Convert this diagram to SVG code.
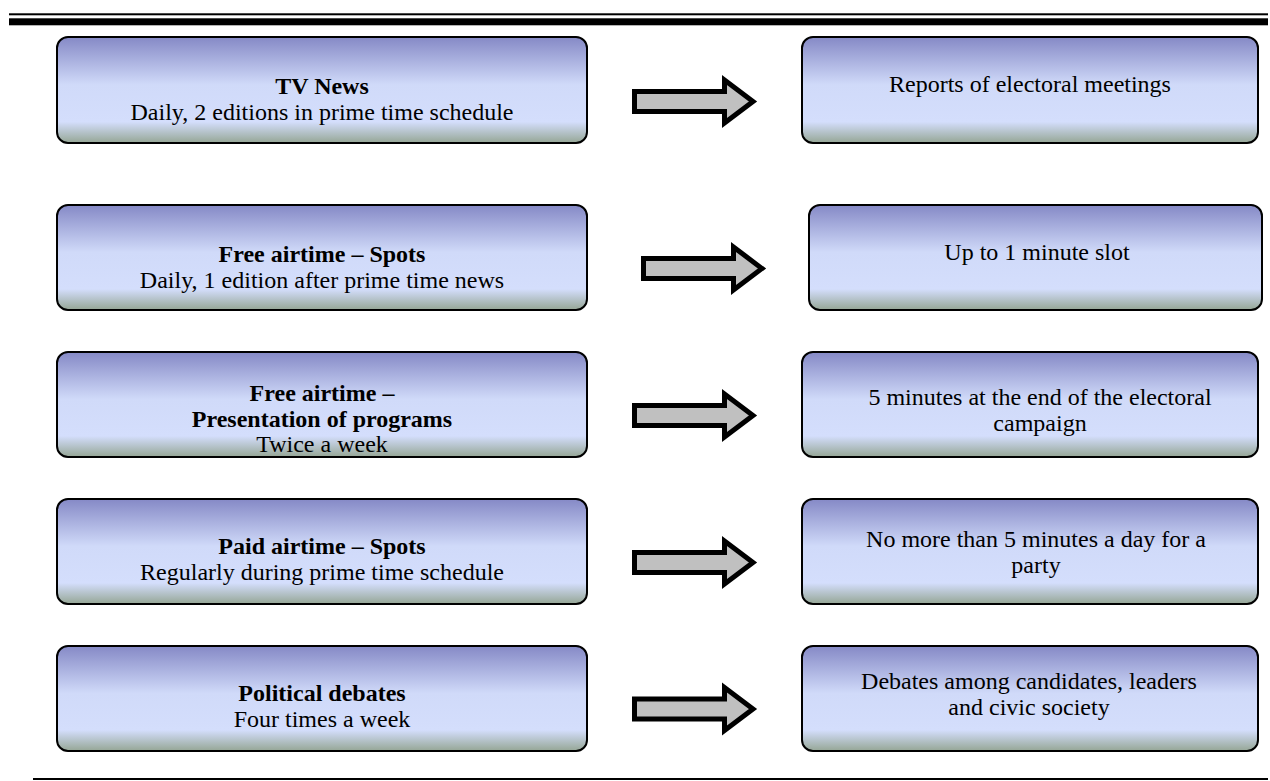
<svg xmlns="http://www.w3.org/2000/svg" width="1270" height="781" viewBox="0 0 1270 781">
<defs>
<linearGradient id="boxfill" x1="0" y1="0" x2="0" y2="1">
<stop offset="0" stop-color="#8589c6"/>
<stop offset="0.45" stop-color="#d0daf9"/>
<stop offset="0.8" stop-color="#d4defc"/>
<stop offset="1" stop-color="#95a695"/>
</linearGradient>
<path id="arr" d="M0,-10 L90,-10 L90,-21.5 L118.5,0 L90,21.5 L90,10 L0,10 Z"/>
</defs>
<style>
.box{fill:url(#boxfill);stroke:#000;stroke-width:2}
.t{font-family:"Liberation Serif","Times New Roman",serif;font-size:24px;fill:#000;text-anchor:middle}
.b{font-weight:bold}
.arrow{fill:#c0c0c0;stroke:#000;stroke-width:5;stroke-linejoin:miter}
.rule{fill:#000}
</style>
<g id="rules">
<rect class="rule" x="9" y="13.3" width="1259" height="2"/>
<rect class="rule" x="9" y="18.3" width="1259" height="7"/>
<rect class="rule" x="33" y="778" width="1235" height="2"/>
</g>
<g id="n1"><rect class="box" x="57" y="37" width="530" height="106" rx="11"/>
<text class="t b" x="322" y="94">TV News</text>
<text class="t" x="322" y="120">Daily, 2 editions in prime time schedule</text></g>
<g id="n1r"><rect class="box" x="802" y="37" width="456" height="106" rx="11"/>
<text class="t" x="1030" y="92">Reports of electoral meetings</text></g>
<g id="n2"><rect class="box" x="57" y="205" width="530" height="105" rx="11"/>
<text class="t b" x="322" y="262">Free airtime – Spots</text>
<text class="t" x="322" y="288">Daily, 1 edition after prime time news</text></g>
<g id="n2r"><rect class="box" x="809" y="205" width="453" height="105" rx="11"/>
<text class="t" x="1037" y="260">Up to 1 minute slot</text></g>
<g id="n3"><rect class="box" x="57" y="352" width="530" height="105" rx="11"/>
<text class="t b" x="322" y="401">Free airtime –</text>
<text class="t b" x="322" y="427">Presentation of programs</text>
<text class="t" x="322" y="452">Twice a week</text></g>
<g id="n3r"><rect class="box" x="802" y="352" width="456" height="105" rx="11"/>
<text class="t" x="1040" y="405">5 minutes at the end of the electoral</text>
<text class="t" x="1040" y="431">campaign</text></g>
<g id="n4"><rect class="box" x="57" y="499" width="530" height="105" rx="11"/>
<text class="t b" x="322" y="554">Paid airtime – Spots</text>
<text class="t" x="322" y="580">Regularly during prime time schedule</text></g>
<g id="n4r"><rect class="box" x="802" y="499" width="456" height="105" rx="11"/>
<text class="t" x="1036" y="547">No more than 5 minutes a day for a</text>
<text class="t" x="1036" y="573">party</text></g>
<g id="n5"><rect class="box" x="57" y="646" width="530" height="105" rx="11"/>
<text class="t b" x="322" y="701">Political debates</text>
<text class="t" x="322" y="727">Four times a week</text></g>
<g id="n5r"><rect class="box" x="802" y="646" width="456" height="105" rx="11"/>
<text class="t" x="1029" y="689">Debates among candidates, leaders</text>
<text class="t" x="1029" y="715">and civic society</text></g>
<g id="connectors">
<use href="#arr" class="arrow" transform="translate(634.5,101.5)"/>
<use href="#arr" class="arrow" transform="translate(643.5,268.5)"/>
<use href="#arr" class="arrow" transform="translate(634.5,415.5)"/>
<use href="#arr" class="arrow" transform="translate(634.5,562.5)"/>
<use href="#arr" class="arrow" transform="translate(634.5,709)"/>
</g>
</svg>
